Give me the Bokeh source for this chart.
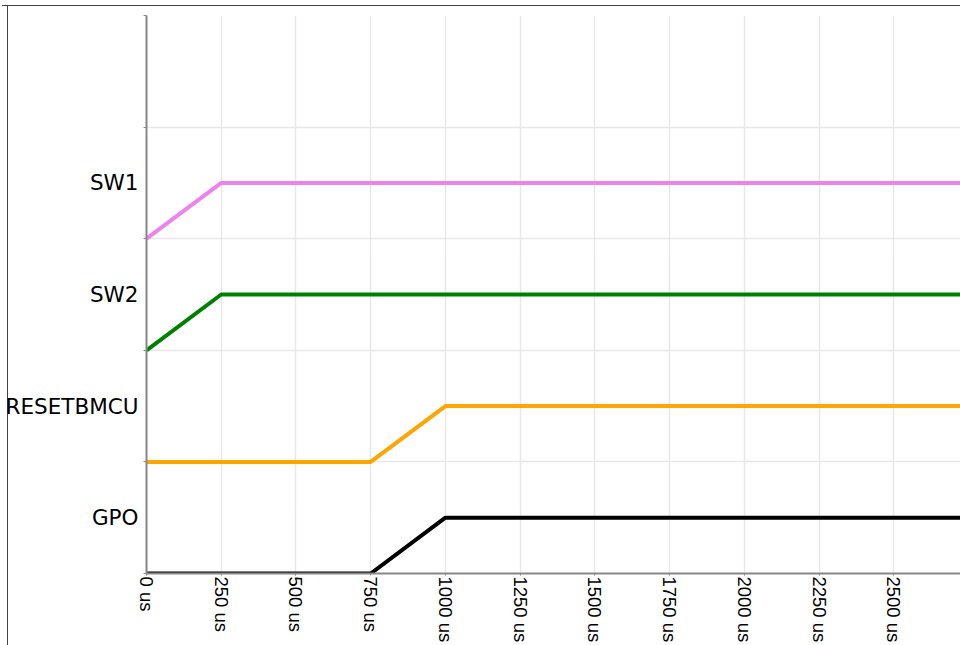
import math
from bokeh.plotting import figure
from bokeh.layouts import column
from bokeh.models import FixedTicker, Range1d, PrintfTickFormatter
from bokeh.embed import file_html
from bokeh.resources import INLINE

# Signals, bottom lane first
signal_names = ["GPO", "RESETBMCU", "SW2", "SW1"]
signal_colors = ["black", "orange", "green", "violet"]

gpo_t = [0, 750, 1000, 2750]
gpo_v = [0, 0, 1, 1]
resetbmcu_t = [0, 750, 1000, 2750]
resetbmcu_v = [0, 0, 1, 1]
sw2_t = [0, 250, 2750]
sw2_v = [0, 1, 1]
sw1_t = [0, 250, 2750]
sw1_v = [0, 1, 1]

x_ticks = list(range(0, 2751, 250))

series_t = [gpo_t, resetbmcu_t, sw2_t, sw1_t]
series_v = [gpo_v, resetbmcu_v, sw2_v, sw1_v]

p = figure(width=958, height=639, output_backend="svg", toolbar_location=None,
           x_range=Range1d(0, 2723), y_range=Range1d(0, 5),
           min_border_left=138, min_border_top=9, min_border_right=0,
           min_border_bottom=10)
p.outline_line_color = None
p.border_fill_color = None
p.background_fill_color = "white"

for lane, (ts, vs, col) in enumerate(zip(series_t, series_v, signal_colors)):
    ys = [lane + 0.5 * v for v in vs]
    p.line(ts, ys, line_color=col, line_width=4)

# x axis
p.xaxis.ticker = FixedTicker(ticks=x_ticks)
p.xaxis.formatter = PrintfTickFormatter(format="%d us")
p.xaxis.major_label_orientation = -math.pi / 2
p.xaxis.major_label_text_font = "Liberation Sans"
p.xaxis.major_label_text_font_size = "18.5px"
p.xaxis.major_label_text_color = "black"
p.xaxis.axis_line_color = "#888888"
p.xaxis.axis_line_width = 2
p.xaxis.major_tick_line_color = "#888888"
p.xaxis.major_tick_out = 2
p.xaxis.major_tick_in = 0
p.xaxis.minor_tick_line_color = None
p.xaxis.major_label_standoff = 1

# y axis
label_pos = [i + 0.5 for i in range(len(signal_names))]
p.yaxis.ticker = FixedTicker(ticks=label_pos, minor_ticks=[0, 1, 2, 3, 4, 5])
p.yaxis.major_label_overrides = {pos: name for pos, name in zip(label_pos, signal_names)}
p.yaxis.major_label_text_font = "DejaVu Sans"
p.yaxis.major_label_text_font_size = "21.5px"
p.yaxis.major_label_text_color = "black"
p.yaxis.major_tick_line_color = None
p.yaxis.minor_tick_line_color = "#888888"
p.yaxis.minor_tick_out = 3
p.yaxis.minor_tick_in = 0
p.yaxis.axis_line_color = "#888888"
p.yaxis.axis_line_width = 2
p.yaxis.major_label_standoff = 2

# grids
p.xgrid.ticker = FixedTicker(ticks=x_ticks)
p.ygrid.ticker = FixedTicker(ticks=[1, 2, 3, 4, 5])
p.xgrid.grid_line_color = "#e8e8e8"
p.ygrid.grid_line_color = "#e8e8e8"
p.xgrid.grid_line_width = 1.5
p.ygrid.grid_line_width = 1.5

layout = column(p, styles={
    "border-top": "1px solid #444444",
    "margin-left": "2px", "margin-top": "5px",
    "background": "linear-gradient(#444444, #444444) 5px 0 / 1px 100% no-repeat, white",
})

open("out.html", "w").write(file_html(layout, INLINE))
